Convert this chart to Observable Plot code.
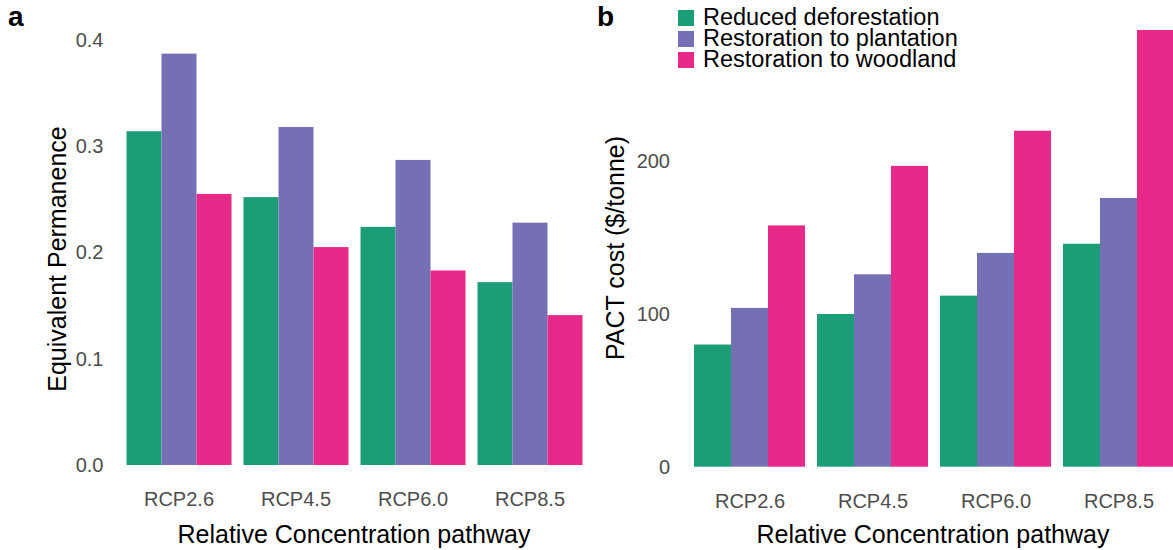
<!DOCTYPE html>
<html>
<head>
<meta charset="utf-8">
<script src="https://cdn.jsdelivr.net/npm/d3@7"></script>
<script src="https://cdn.jsdelivr.net/npm/@observablehq/plot@0.6"></script>
<style>
  html, body { margin: 0; padding: 0; background: #fff; overflow: hidden; }
  #page { position: relative; width: 1173px; height: 550px; font-family: "Liberation Sans", Arial, sans-serif; }
  .panel { position: absolute; top: 0; }
  .tag { position: absolute; font-weight: bold; font-size: 28px; line-height: 28px; color: #000; }
  .title { position: absolute; font-size: 25px; line-height: 25px; color: #000; white-space: nowrap; transform: translate(-50%, -50%); }
  .title.rot { transform: translate(-50%, -50%) rotate(-90deg); }
  .legend { position: absolute; left: 678px; top: 7px; }
  .legend .row { display: flex; align-items: center; height: 21px; }
  .legend .key { width: 16px; height: 16px; margin-right: 9px; }
  .legend .txt { font-size: 23.5px; line-height: 21px; color: #000; white-space: nowrap; }
</style>
</head>
<body>
<div id="page">
  <div class="panel" id="pa" style="left:0px"></div>
  <div class="panel" id="pb" style="left:590px"></div>
  <div class="tag" style="left:8px; top:3px">a</div>
  <div class="tag" style="left:597px; top:3px">b</div>
  <div class="title rot" style="left:57px; top:259px">Equivalent Permanence</div>
  <div class="title" style="left:354px; top:534px">Relative Concentration pathway</div>
  <div class="title rot" style="left:615px; top:248px">PACT cost ($/tonne)</div>
  <div class="title" style="left:933px; top:534px">Relative Concentration pathway</div>
  <div class="legend" id="legend"></div>
</div>
<script>
// Emission scenarios and intervention types
const rcps = ["RCP2.6", "RCP4.5", "RCP6.0", "RCP8.5"];
const types = ["Reduced deforestation", "Restoration to plantation", "Restoration to woodland"];
const colors = ["#1b9e77", "#7570b3", "#e7298a"];

// Equivalent permanence per scenario
const permReduced = [0.314, 0.252, 0.224, 0.172];
const permPlantation = [0.387, 0.318, 0.287, 0.228];
const permWoodland = [0.255, 0.205, 0.183, 0.141];

// PACT cost ($/tonne) per scenario
const costReduced = [80, 100, 112, 146];
const costPlantation = [104, 126, 140, 176];
const costWoodland = [158, 197, 220, 286];

const permTicks = [0, 0.1, 0.2, 0.3, 0.4];
const costTicks = [0, 100, 200];

function rows(seriesList) {
  const out = [];
  rcps.forEach((rcp, i) => {
    types.forEach((type, j) => out.push({rcp, type, value: seriesList[j][i]}));
  });
  return out;
}

const permData = rows([permReduced, permPlantation, permWoodland]);
const costData = rows([costReduced, costPlantation, costWoodland]);

// Grouped bars: one facet per scenario, one band per intervention type
function panel({data, width, marginLeft, marginRight, marginTop, marginBottom, yDomain, yTicks, yFormat, yPad, xPad}) {
  return Plot.plot({
    width, height: 550,
    marginLeft, marginRight, marginTop, marginBottom,
    style: {fontFamily: "Liberation Sans, Arial, sans-serif", fontSize: "20px", color: "#4d4d4d", background: "transparent", maxWidth: "none", overflow: "visible"},
    fx: {domain: rcps, paddingInner: 0.1, paddingOuter: 0.15, label: null, tickSize: 0, tickPadding: xPad},
    x: {domain: types, padding: 0, axis: null},
    y: {domain: yDomain, ticks: yTicks, tickFormat: yFormat, tickSize: 0, tickPadding: yPad, label: null, grid: false},
    color: {domain: types, range: colors},
    marks: [
      Plot.barY(data, {fx: "rcp", x: "type", y: "value", fill: "type"})
    ]
  });
}

document.getElementById("pa").appendChild(panel({
  data: permData, width: 603, marginLeft: 107.5, marginRight: 2.5, marginTop: 33, marginBottom: 85,
  yDomain: [0, 0.4064], yTicks: permTicks, yFormat: d3.format(".1f"), yPad: 23, xPad: 26
}));

document.getElementById("pb").appendChild(panel({
  data: costData, width: 606, marginLeft: 85, marginRight: 3, marginTop: 7.5, marginBottom: 83.3,
  yDomain: [0, 300.7], yTicks: costTicks, yFormat: d3.format("d"), yPad: 24.5, xPad: 27
}));

// Legend for the three intervention types
const legend = document.getElementById("legend");
types.forEach((t, i) => {
  const row = document.createElement("div");
  row.className = "row";
  const key = document.createElement("div");
  key.className = "key";
  key.style.background = colors[i];
  const txt = document.createElement("div");
  txt.className = "txt";
  txt.textContent = t;
  row.appendChild(key);
  row.appendChild(txt);
  legend.appendChild(row);
});
</script>
</body>
</html>
